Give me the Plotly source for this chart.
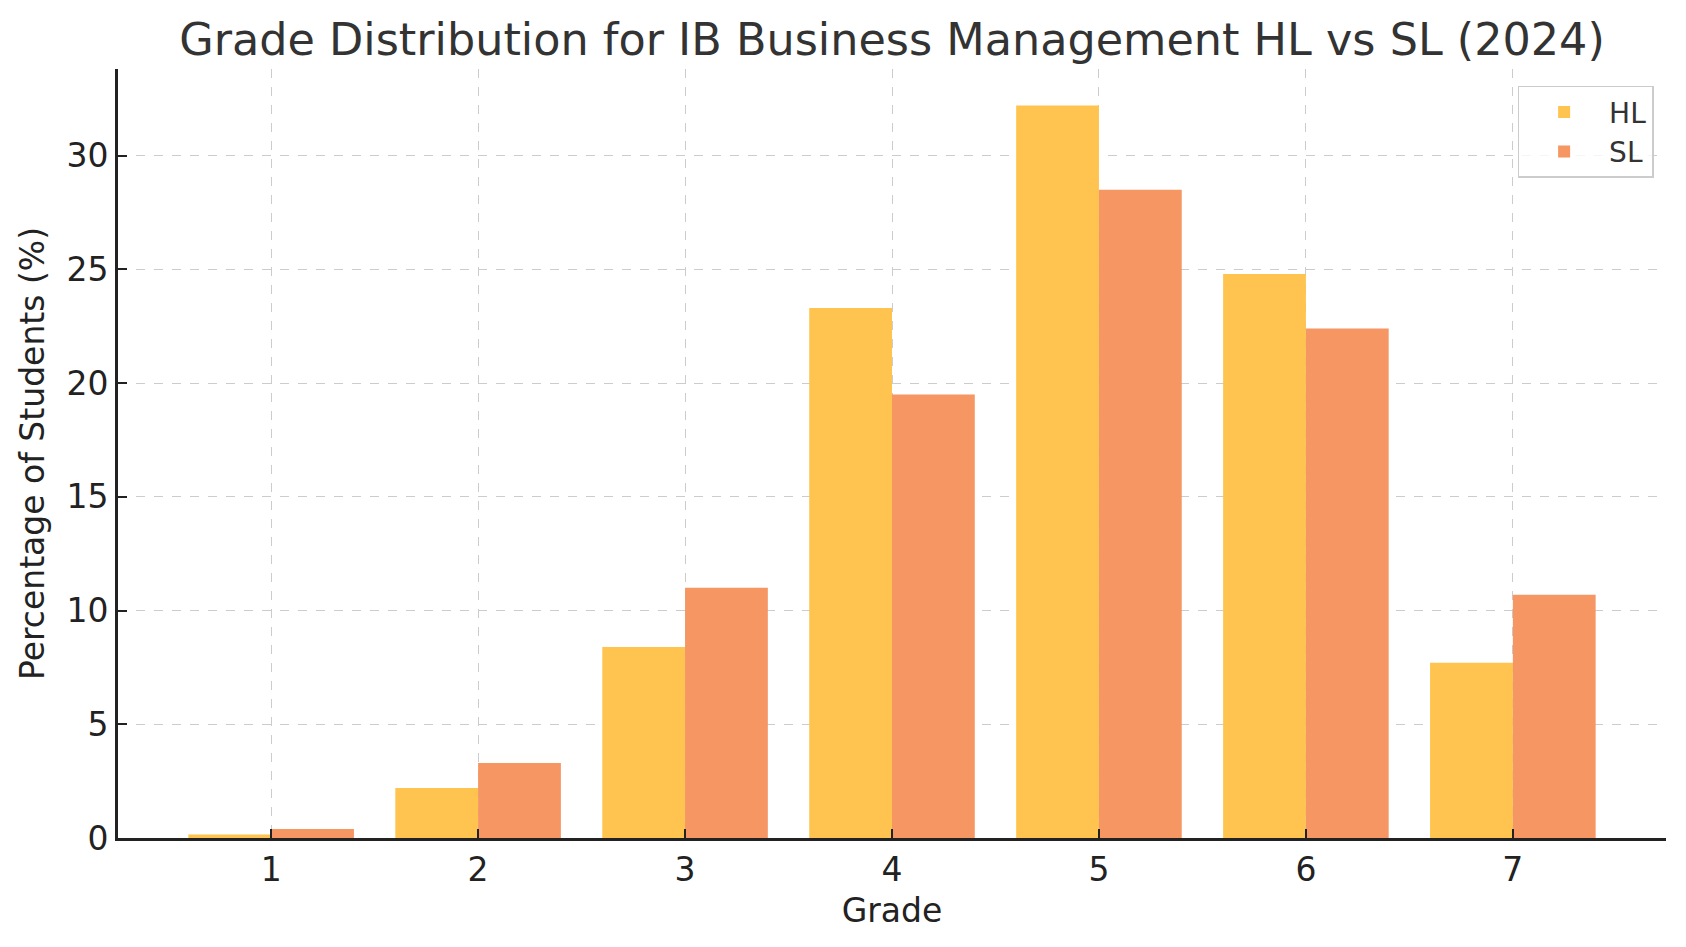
import plotly.graph_objects as go

grades = [1, 2, 3, 4, 5, 6, 7]
hl_pct = [0.15, 2.2, 8.4, 23.3, 32.2, 24.8, 7.7]
sl_pct = [0.4, 3.3, 11.0, 19.5, 28.5, 22.4, 10.7]

FONT = "DejaVu Sans"

fig = go.Figure()
fig.add_trace(go.Bar(x=grades, y=hl_pct, name="HL", marker_color="#FEC44F", marker_line_width=0))
fig.add_trace(go.Bar(x=grades, y=sl_pct, name="SL", marker_color="#F59663", marker_line_width=0))

fig.update_layout(
    width=1686,
    height=947,
    barmode="group",
    bargap=0.2,
    bargroupgap=0,
    plot_bgcolor="white",
    paper_bgcolor="white",
    font=dict(family=FONT, size=30, color="#222222"),
    margin=dict(l=110, r=28, t=61, b=117),
    title=dict(
        text="Grade Distribution for IB Business Management HL vs SL (2024)",
        x=0.5, xref="paper", xanchor="center",
        y=0.967, yanchor="middle",
        font=dict(family=FONT, size=44.5, color="#333333"),
    ),
    legend=dict(
        x=0.992, y=0.978, xanchor="right", yanchor="top",
        bordercolor="#cccccc", borderwidth=1.5,
        bgcolor="rgba(255,255,255,0.8)",
        itemwidth=80,
        font=dict(size=28, color="#333333"),
    ),
    showlegend=True,
)

fig.update_xaxes(
    title=dict(text="Grade", font=dict(size=33, color="#222222"), standoff=12),
    range=[0.26, 7.74],
    tickvals=grades,
    ticks="inside", ticklen=9, tickwidth=1.5, tickcolor="#222222",
    showline=True, linecolor="#222222", linewidth=3,
    showgrid=True, gridcolor="#cccccc", gridwidth=1.2, griddash="dash",
    zeroline=False,
    tickfont=dict(size=33),
)
fig.update_yaxes(
    title=dict(text="Percentage of Students (%)", font=dict(size=33, color="#222222"), standoff=12),
    range=[0, 33.81],
    tickvals=[0, 5, 10, 15, 20, 25, 30],
    ticks="inside", ticklen=9, tickwidth=1.5, tickcolor="#222222",
    showline=True, linecolor="#222222", linewidth=3,
    showgrid=True, gridcolor="#cccccc", gridwidth=1.2, griddash="dash",
    zeroline=False,
    tickfont=dict(size=33),
)

fig.write_html("out.html")
